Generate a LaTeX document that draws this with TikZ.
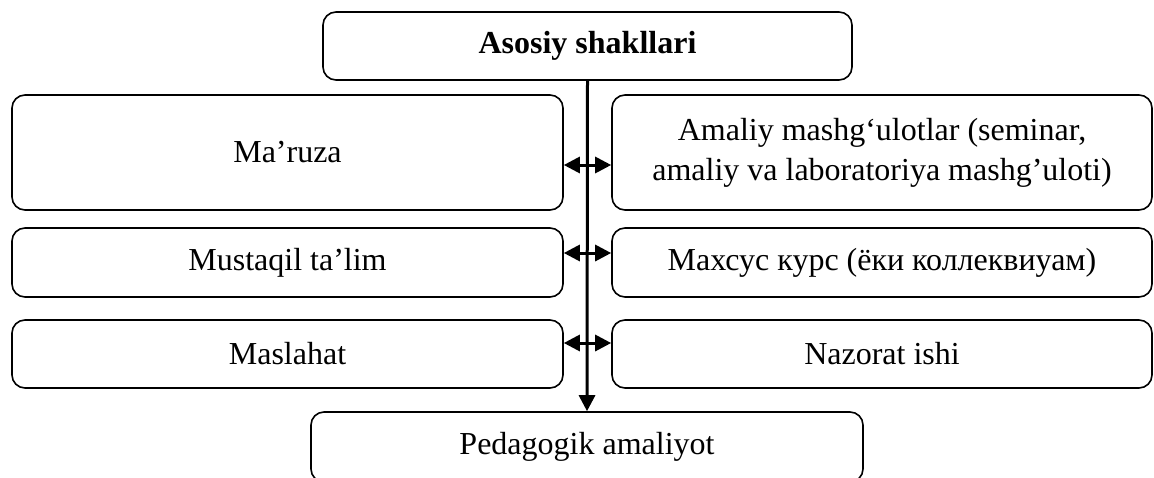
\documentclass[tikz,border=0pt]{standalone}
\usepackage{fontspec}
\setmainfont{Liberation Serif}
\usetikzlibrary{arrows.meta}
\tikzset{
  box/.style={draw, line width=1.6pt, rounded corners=13pt, inner sep=0pt, align=center,
    font=\fontsize{32}{40}\selectfont},
  dbl/.style={line width=3pt, {Triangle[length=16pt,width=16pt]}-{Triangle[length=16pt,width=16pt]}},
  vline/.style={line width=3pt, -{Triangle[length=16pt,width=16pt]}}
}
\begin{document}
\begin{tikzpicture}[x=1pt,y=-1pt]
\fill[white] (0,0) rectangle (1154,477);
\useasboundingbox (0,0) rectangle (1154,477);
\node[box, minimum width=529pt, minimum height=68pt] (top) at (587.5,46) {\textbf{Asosiy shakllari}};
\node[box, minimum width=551pt, minimum height=115pt] (ml) at (287.5,152.5) {Ma’ruza};
\node[box, minimum width=540pt, minimum height=115pt] (ar) at (882,152.5) {Amaliy mashg‘ulotlar (seminar,\\amaliy va laboratoriya mashg’uloti)};
\node[box, minimum width=551pt, minimum height=69pt] (mt) at (287.5,262.5) {Mustaqil ta’lim};
\node[box, minimum width=540pt, minimum height=69pt] (mk) at (882,262.5) {Махсус курс (ёки коллеквиуам)};
\node[box, minimum width=551pt, minimum height=68pt] (mh) at (287.5,354) {Maslahat};
\node[box, minimum width=540pt, minimum height=68pt] (nz) at (882,354) {Nazorat ishi};
\node[box, minimum width=552pt, minimum height=70pt] (ped) at (587,447) {Pedagogik amaliyot};
\draw[vline] (top.south) -- (ped.north);
\draw[dbl] ([yshift=-12.5pt]ml.east) -- ([yshift=-12.5pt]ar.west);
\draw[dbl] ([yshift=9.5pt]mt.east) -- ([yshift=9.5pt]mk.west);
\draw[dbl] ([yshift=11pt]mh.east) -- ([yshift=11pt]nz.west);
\end{tikzpicture}
\end{document}
